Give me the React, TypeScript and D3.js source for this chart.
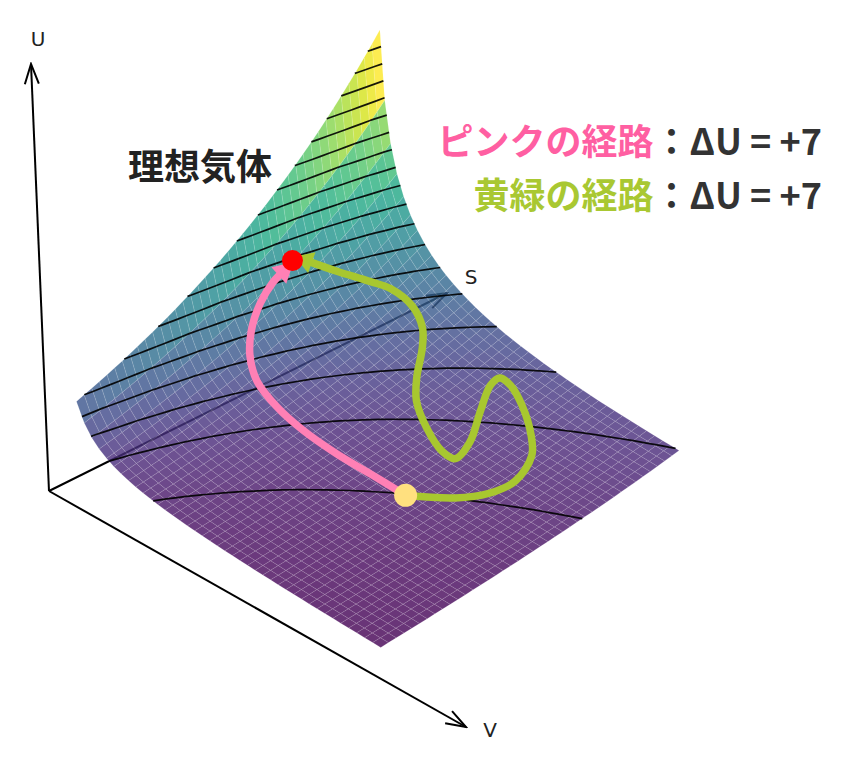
import React from "react";
import * as d3 from "d3";

// U along the volume grid (Vmin to Vmax), relative to the value at Vmax
const volumeFactor = [
  7.073, 5.6, 4.706, 4.096, 3.649, 3.306, 3.032, 2.808, 2.621, 2.462, 2.324, 2.204, 2.098, 2.004,
  1.919, 1.843, 1.774, 1.71, 1.652, 1.599, 1.55, 1.504, 1.461, 1.422, 1.385, 1.35, 1.317, 1.286,
  1.257, 1.229, 1.203, 1.178, 1.154, 1.132, 1.111, 1.09, 1.07, 1.052, 1.034, 1.017, 1,
];
// U along the entropy grid (Smin to Smax), relative to the value at Smin
const entropyFactor = [
  1, 1.03, 1.062, 1.094, 1.128, 1.163, 1.198, 1.235, 1.274, 1.313, 1.354, 1.396, 1.44, 1.485, 1.532,
  1.58, 1.63, 1.681, 1.734, 1.789, 1.846, 1.905, 1.966, 2.029, 2.094, 2.162, 2.232, 2.304, 2.378,
  2.456, 2.536, 2.618, 2.704, 2.792, 2.884, 2.979, 3.077, 3.179, 3.284, 3.393, 3.506,
];
const baseEnergy = 0.7985;
const contourLevels = [
  1.82, 2.82, 3.82, 4.82, 5.82, 6.82, 7.82, 8.82, 9.82, 10.82, 11.82, 12.82, 13.82, 14.82, 15.82,
  16.82, 17.82, 18.82,
];

// the two paths on the surface, as (V, S) in 0..1 of each grid
const pinkV = [0.652, 0.542, 0.438, 0.328, 0.236, 0.158, 0.11, 0.078, 0.058, 0.05, 0.05];
const pinkS = [0.443, 0.44, 0.433, 0.43, 0.433, 0.443, 0.467, 0.503, 0.553, 0.603, 0.643];
const greenV = [
  0.652, 0.74, 0.784, 0.798, 0.764, 0.716, 0.632, 0.566, 0.532, 0.532, 0.574, 0.628, 0.644, 0.604,
  0.522, 0.444, 0.394, 0.342, 0.304, 0.25, 0.192, 0.154, 0.102, 0.066,
];
const greenS = [
  0.443, 0.517, 0.583, 0.66, 0.753, 0.803, 0.863, 0.893, 0.893, 0.86, 0.78, 0.687, 0.62, 0.617, 0.65,
  0.697, 0.75, 0.823, 0.863, 0.883, 0.867, 0.833, 0.77, 0.713,
];
const startPoint = [0.652, 0.443];
const endPoint = [0.049, 0.67];

const nV = volumeFactor.length;
const nS = entropyFactor.length;
const energy = (i: number, j: number) => baseEnergy * volumeFactor[i] * entropyFactor[j];

const toV = d3.scaleLinear().domain([0, nV - 1]).range([0, 1]);
const toS = d3.scaleLinear().domain([0, nS - 1]).range([0, 1]);
const volumeLookup = d3.scaleLinear().domain(volumeFactor.map((_, i) => toV(i))).range(volumeFactor);
const entropyLookup = d3.scaleLinear().domain(entropyFactor.map((_, j) => toS(j))).range(entropyFactor);
const surfaceEnergy = (v: number, s: number) => baseEnergy * volumeLookup(v) * entropyLookup(s);

// perspective view of the (V, S, U) box
const project = (v: number, s: number, u: number): [number, number] => {
  const w = 1 - 0.06464 * v + 0.05532 * s - 0.00392 * u;
  return [
    (79.37 + 276.19 * v + 308.07 * s - 0.81 * u) / w + 4 * v * s,
    (484.22 + 132.26 * v - 133.6 * s - 16.24 * u) / w + 4 * v * s,
  ];
};
const onSurface = (v: number, s: number) => project(v, s, surfaceEnergy(v, s));

const energies = d3.range(nS).flatMap((j) => d3.range(nV).map((i) => energy(i, j)));

const rawCells = d3.range(nS - 1).flatMap((j) =>
  d3.range(nV - 1).map((i) => {
    const corners: [number, number][] = [[i, j], [i + 1, j], [i + 1, j + 1], [i, j + 1]];
    return {
      key: `${i}-${j}`,
      mean: d3.mean(corners, ([a, b]) => energy(a, b)) as number,
      points: corners.map(([a, b]) => project(toV(a), toS(b), energy(a, b)).join(",")).join(" "),
    };
  })
);
const color = d3
  .scaleSequential(d3.interpolateViridis)
  .domain(d3.extent(rawCells, (c) => c.mean) as [number, number]);

// contour rings come back closed along the grid border, keep the inner runs only
const line = d3.line();
const contourPaths = d3
  .contours()
  .size([nV, nS])
  .thresholds(contourLevels)(energies)
  .flatMap((c) => {
    const runs: string[] = [];
    c.coordinates.forEach((poly) =>
      poly.forEach((ring) => {
        let run: [number, number][] = [];
        const flush = () => {
          if (run.length > 1) runs.push(line(run) as string);
          run = [];
        };
        ring.forEach(([x, y]) => {
          if (x <= 0 || y <= 0 || x >= nV || y >= nS) flush();
          else run.push(project(toV(x - 0.5), toS(y - 0.5), c.value));
        });
        flush();
      })
    );
    return runs;
  });

const smooth = d3.line().curve(d3.curveCatmullRom.alpha(0.5));
const pinkPath = smooth(pinkV.map((v, i) => onSurface(v, pinkS[i]))) as string;
const greenPath = smooth(greenV.map((v, i) => onSurface(v, greenS[i]))) as string;
const startXY = onSurface(startPoint[0], startPoint[1]);
const endXY = onSurface(endPoint[0], endPoint[1]);

const origin = [49, 491];
const axisEnds = [
  { name: "V", tip: [466, 727], label: [490, 737] },
  { name: "S", tip: [447, 293], label: [471, 284] },
  { name: "U", tip: [31, 64], label: [38, 46] },
];

const jp = '"Noto Sans CJK JP", sans-serif';

export default function App() {
  return (
    <svg width={858} height={761} style={{ position: "absolute", left: 0, top: 0 }}>
      <rect width={858} height={761} fill="#fff" />
      <defs>
        <marker id="open" viewBox="-24 -10 26 20" refX={0} refY={0} markerWidth={26} markerHeight={20} markerUnits="userSpaceOnUse" orient="auto">
          <path d="M-20,-7L0,0L-20,7" fill="none" stroke="#000" strokeWidth={2} />
        </marker>
        <marker id="pinkHead" viewBox="-12 -12 28 24" refX={0} refY={0} markerWidth={28} markerHeight={24} markerUnits="userSpaceOnUse" orient="auto">
          <path d="M-8,-11L12,0L-8,11Z" fill="#ff80b5" />
        </marker>
        <marker id="greenHead" viewBox="-4 -12 24 24" refX={0} refY={0} markerWidth={24} markerHeight={24} markerUnits="userSpaceOnUse" orient="auto">
          <path d="M-2,-11L16,0L-2,11Z" fill="#a8c72f" />
        </marker>
      </defs>
      {axisEnds.map((a) => (
        <g key={a.name}>
          <line x1={origin[0]} y1={origin[1]} x2={a.tip[0]} y2={a.tip[1]} stroke="#000" strokeWidth={2} markerEnd="url(#open)" />
          <text x={a.label[0]} y={a.label[1]} fontFamily="DejaVu Sans" fontSize={20} textAnchor="middle" fill="#222">
            {a.name}
          </text>
        </g>
      ))}
      <g fillOpacity={0.8} stroke="#fff" strokeOpacity={0.14} strokeWidth={0.8}>
        {rawCells.map((c) => (
          <polygon key={c.key} points={c.points} fill={color(c.mean)} />
        ))}
      </g>
      <g fill="none" stroke="#000" strokeWidth={1.7} strokeOpacity={0.9}>
        {contourPaths.map((d, i) => (
          <path key={i} d={d} />
        ))}
      </g>
      <path d={pinkPath} fill="none" stroke="#ff80b5" strokeWidth={7.5} markerEnd="url(#pinkHead)" />
      <path d={greenPath} fill="none" stroke="#a8c72f" strokeWidth={7.5} markerEnd="url(#greenHead)" />
      <circle cx={startXY[0]} cy={startXY[1]} r={11.5} fill="#ffe07f" />
      <circle cx={endXY[0]} cy={endXY[1]} r={10.5} fill="#ff0000" />
      <text x={200} y={180} textAnchor="middle" fontFamily={jp} fontWeight={700} fontSize={36} fill="#222">
        理想気体
      </text>
      <text x={822} y={155} textAnchor="end" fontFamily={jp} fontWeight={700} fontSize={36} fill="#333">
        <tspan fill="#ff5fa2">ピンクの経路</tspan>：ΔU = +7
      </text>
      <text x={822} y={209} textAnchor="end" fontFamily={jp} fontWeight={700} fontSize={36} fill="#333">
        <tspan fill="#a9c832">黄緑の経路</tspan>：ΔU = +7
      </text>
    </svg>
  );
}
